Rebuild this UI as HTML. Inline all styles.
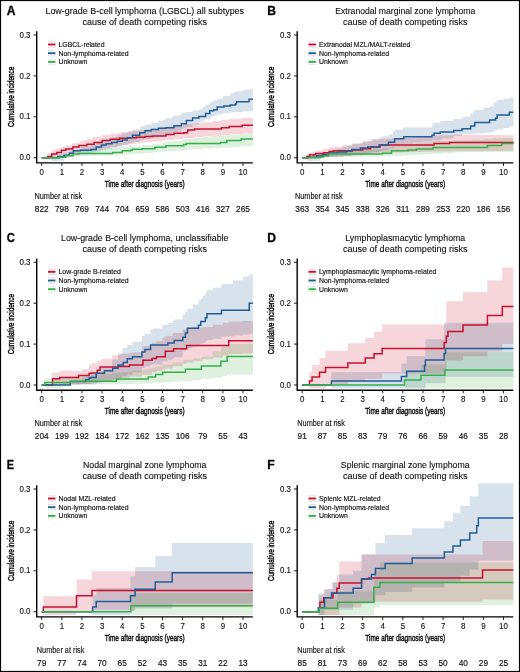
<!DOCTYPE html><html><head><meta charset="utf-8"><style>html,body{margin:0;padding:0;background:#fff;}svg{display:block;will-change:transform;}text{font-family:"Liberation Sans", sans-serif;stroke:#000;stroke-width:0.16px;paint-order:normal;}</style></head><body>
<svg width="520" height="672" viewBox="0 0 520 672">
<rect x="0" y="0" width="520" height="672" fill="#fff"/>
<g transform="translate(0.00,0.00)">
<text transform="translate(6.7,14.8) scale(1.00,1)" font-size="12.1" font-weight="bold" fill="#000" style="stroke-width:0.3px">A</text>
<text x="144.75" y="13.8" font-size="9.05" text-anchor="middle" textLength="198.67" lengthAdjust="spacingAndGlyphs" fill="#111" style="stroke-width:0.1px">Low-grade B-cell lymphoma (LGBCL) all subtypes</text>
<text x="144.75" y="25.1" font-size="9.05" text-anchor="middle" fill="#111" style="stroke-width:0.1px">cause of death competing risks</text>
<path d="M41.70 156.88 L47.74 156.88 L47.74 152.79 L51.77 152.79 L51.77 150.07 L56.80 150.07 L56.80 148.21 L61.43 148.21 L61.43 146.78 L61.83 146.78 L61.83 146.66 L65.86 146.66 L65.86 145.43 L71.90 145.43 L71.90 143.59 L72.90 143.59 L72.90 143.28 L78.94 143.28 L78.94 141.44 L81.96 141.44 L81.96 140.52 L86.99 140.52 L86.99 138.93 L92.03 138.93 L92.03 137.41 L94.04 137.41 L94.04 136.93 L102.09 136.93 L102.09 134.97 L110.14 134.97 L110.14 133.70 L112.16 133.70 L112.16 133.46 L119.60 133.46 L119.60 132.56 L122.22 132.56 L122.22 132.24 L128.26 132.24 L128.26 131.51 L132.28 131.51 L132.28 131.02 L136.31 131.02 L136.31 130.53 L142.35 130.53 L142.35 129.80 L144.97 129.80 L144.97 129.48 L152.41 129.48 L152.41 128.44 L162.48 128.44 L162.48 127.02 L165.90 127.02 L165.90 126.62 L172.55 126.62 L172.55 125.83 L173.95 125.83 L173.95 125.66 L182.61 125.66 L182.61 124.63 L184.02 124.63 L184.02 124.46 L187.64 124.46 L187.64 124.03 L192.68 124.03 L192.68 123.43 L194.69 123.43 L194.69 123.19 L202.74 123.19 L202.74 122.21 L212.81 122.21 L212.81 120.93 L221.46 120.93 L221.46 119.84 L222.87 119.84 L222.87 119.66 L229.11 119.66 L229.11 119.07 L232.94 119.07 L232.94 118.70 L242.19 118.70 L242.19 117.82 L243.00 117.82 L243.00 117.74 L252.86 117.74 L252.86 116.80 L252.86 132.87 L252.86 133.57 L243.00 133.57 L243.00 133.63 L242.19 133.63 L242.19 134.29 L232.94 134.29 L232.94 134.56 L229.11 134.56 L229.11 135.00 L222.87 135.00 L222.87 135.11 L221.46 135.11 L221.46 135.77 L212.81 135.77 L212.81 136.55 L202.74 136.55 L202.74 137.26 L194.69 137.26 L194.69 137.46 L192.68 137.46 L192.68 137.95 L187.64 137.95 L187.64 138.31 L184.02 138.31 L184.02 138.45 L182.61 138.45 L182.61 139.30 L173.95 139.30 L173.95 139.44 L172.55 139.44 L172.55 140.09 L165.90 140.09 L165.90 140.43 L162.48 140.43 L162.48 141.42 L152.41 141.42 L152.41 142.16 L144.97 142.16 L144.97 142.50 L142.35 142.50 L142.35 143.27 L136.31 143.27 L136.31 143.79 L132.28 143.79 L132.28 144.31 L128.26 144.31 L128.26 145.09 L122.22 145.09 L122.22 145.43 L119.60 145.43 L119.60 146.39 L112.16 146.39 L112.16 146.65 L110.14 146.65 L110.14 147.68 L102.09 147.68 L102.09 148.72 L94.04 148.72 L94.04 148.98 L92.03 148.98 L92.03 149.84 L86.99 149.84 L86.99 150.75 L81.96 150.75 L81.96 151.30 L78.94 151.30 L78.94 152.40 L72.90 152.40 L72.90 152.59 L71.90 152.59 L71.90 153.69 L65.86 153.69 L65.86 154.43 L61.83 154.43 L61.83 154.52 L61.43 154.52 L61.43 155.54 L56.80 155.54 L56.80 156.56 L51.77 156.56 L51.77 157.02 L47.74 157.02 L47.74 157.70 L41.70 157.70 Z" fill="#f6d5db" style="mix-blend-mode:multiply" stroke="none"/>
<path d="M41.70 157.29 L51.77 157.29 L51.77 155.45 L57.80 155.45 L57.80 154.35 L61.83 154.35 L61.83 153.61 L64.04 153.61 L64.04 152.85 L69.28 152.85 L69.28 151.04 L71.90 151.04 L71.90 150.13 L73.30 150.13 L73.30 149.65 L80.55 149.65 L80.55 147.14 L81.96 147.14 L81.96 146.66 L91.02 146.66 L91.02 145.02 L92.03 145.02 L92.03 144.64 L96.25 144.64 L96.25 143.06 L101.49 143.06 L101.49 141.10 L102.09 141.10 L102.09 140.87 L106.12 140.87 L106.12 139.36 L111.75 139.36 L111.75 137.25 L112.16 137.25 L112.16 137.10 L117.19 137.10 L117.19 135.21 L122.22 135.21 L122.22 133.33 L127.25 133.33 L127.25 131.44 L132.28 131.44 L132.28 129.55 L132.49 129.55 L132.49 129.48 L139.73 129.48 L139.73 126.87 L142.35 126.87 L142.35 125.92 L144.97 125.92 L144.97 124.98 L151.21 124.98 L151.21 123.09 L152.41 123.09 L152.41 122.73 L158.45 122.73 L158.45 120.77 L162.48 120.77 L162.48 119.43 L165.90 119.43 L165.90 118.29 L172.55 118.29 L172.55 116.07 L173.95 116.07 L173.95 115.60 L181.40 115.60 L181.40 113.11 L182.61 113.11 L182.61 112.71 L186.43 112.71 L186.43 111.88 L192.68 111.88 L192.68 110.54 L198.92 110.54 L198.92 109.19 L202.74 109.19 L202.74 106.69 L205.56 106.69 L205.56 104.84 L209.79 104.84 L209.79 102.08 L212.81 102.08 L212.81 100.71 L213.81 100.71 L213.81 100.26 L217.23 100.26 L217.23 98.71 L222.87 98.71 L222.87 96.35 L223.88 96.35 L223.88 95.94 L230.12 95.94 L230.12 93.41 L232.94 93.41 L232.94 92.26 L235.55 92.26 L235.55 91.34 L236.56 91.34 L236.56 91.16 L243.00 91.16 L243.00 90.04 L249.04 90.04 L249.04 88.99 L252.86 88.99 L252.86 88.17 L252.86 110.66 L252.86 110.99 L249.04 110.99 L249.04 111.50 L243.00 111.50 L243.00 112.04 L236.56 112.04 L236.56 112.12 L235.55 112.12 L235.55 112.34 L232.94 112.34 L232.94 112.58 L230.12 112.58 L230.12 113.10 L223.88 113.10 L223.88 113.19 L222.87 113.19 L222.87 114.22 L217.23 114.22 L217.23 115.70 L213.81 115.70 L213.81 116.13 L212.81 116.13 L212.81 117.43 L209.79 117.43 L209.79 119.25 L205.56 119.25 L205.56 120.47 L202.74 120.47 L202.74 122.12 L198.92 122.12 L198.92 124.57 L192.68 124.57 L192.68 127.02 L186.43 127.02 L186.43 128.52 L182.61 128.52 L182.61 129.00 L181.40 129.00 L181.40 131.92 L173.95 131.92 L173.95 132.48 L172.55 132.48 L172.55 135.09 L165.90 135.09 L165.90 136.43 L162.48 136.43 L162.48 137.00 L158.45 137.00 L158.45 137.84 L152.41 137.84 L152.41 138.01 L151.21 138.01 L151.21 138.89 L144.97 138.89 L144.97 139.56 L142.35 139.56 L142.35 140.24 L139.73 140.24 L139.73 142.10 L132.49 142.10 L132.49 142.15 L132.28 142.15 L132.28 143.45 L127.25 143.45 L127.25 144.75 L122.22 144.75 L122.22 146.05 L117.19 146.05 L117.19 147.34 L112.16 147.34 L112.16 147.45 L111.75 147.45 L111.75 148.90 L106.12 148.90 L106.12 149.94 L102.09 149.94 L102.09 150.09 L101.49 150.09 L101.49 151.44 L96.25 151.44 L96.25 152.53 L92.03 152.53 L92.03 152.79 L91.02 152.79 L91.02 153.61 L81.96 153.61 L81.96 153.90 L80.55 153.90 L80.55 155.37 L73.30 155.37 L73.30 155.66 L71.90 155.66 L71.90 156.19 L69.28 156.19 L69.28 157.25 L64.04 157.25 L64.04 160.97 L61.83 160.97 L61.83 160.97 L57.80 160.97 L57.80 160.97 L51.77 160.97 L51.77 157.70 L41.70 157.70 Z" fill="#d8e2ec" style="mix-blend-mode:multiply" stroke="none"/>
<path d="M41.70 157.29 L51.77 157.29 L51.77 156.27 L59.82 156.27 L59.82 155.45 L61.83 155.45 L61.83 155.25 L65.86 155.25 L65.86 154.18 L71.90 154.18 L71.90 152.59 L73.30 152.59 L73.30 152.22 L78.54 152.22 L78.54 150.83 L81.96 150.83 L81.96 149.93 L92.03 149.93 L92.03 148.84 L102.09 148.84 L102.09 147.75 L112.16 147.75 L112.16 146.66 L112.76 146.66 L112.76 146.63 L122.22 146.63 L122.22 146.16 L130.47 146.16 L130.47 145.74 L132.28 145.74 L132.28 145.65 L142.35 145.65 L142.35 145.15 L152.41 145.15 L152.41 143.80 L154.83 143.80 L154.83 143.41 L162.48 143.41 L162.48 142.16 L165.90 142.16 L165.90 141.70 L172.55 141.70 L172.55 140.80 L182.61 140.80 L182.61 139.45 L183.62 139.45 L183.62 139.31 L186.43 139.31 L186.43 138.93 L192.68 138.93 L192.68 138.09 L202.74 138.09 L202.74 136.94 L212.81 136.94 L212.81 136.12 L220.45 136.12 L220.45 135.50 L222.87 135.50 L222.87 135.31 L226.90 135.31 L226.90 134.98 L232.94 134.98 L232.94 134.49 L240.99 134.49 L240.99 133.84 L243.00 133.84 L243.00 133.67 L252.86 133.67 L252.86 132.87 L252.86 145.43 L252.86 146.21 L243.00 146.21 L243.00 146.37 L240.99 146.37 L240.99 147.00 L232.94 147.00 L232.94 147.47 L226.90 147.47 L226.90 147.66 L222.87 147.66 L222.87 147.78 L220.45 147.78 L220.45 148.13 L212.81 148.13 L212.81 148.60 L202.74 148.60 L202.74 149.25 L192.68 149.25 L192.68 149.71 L186.43 149.71 L186.43 149.92 L183.62 149.92 L183.62 150.00 L182.61 150.00 L182.61 150.74 L172.55 150.74 L172.55 151.24 L165.90 151.24 L165.90 151.49 L162.48 151.49 L162.48 152.06 L154.83 152.06 L154.83 152.24 L152.41 152.24 L152.41 152.99 L142.35 152.99 L142.35 153.74 L132.28 153.74 L132.28 153.88 L130.47 153.88 L130.47 154.49 L122.22 154.49 L122.22 155.20 L112.76 155.20 L112.76 155.25 L112.16 155.25 L112.16 155.52 L102.09 155.52 L102.09 155.79 L92.03 155.79 L92.03 156.06 L81.96 156.06 L81.96 156.20 L78.54 156.20 L78.54 156.42 L73.30 156.42 L73.30 156.47 L71.90 156.47 L71.90 156.72 L65.86 156.72 L65.86 156.88 L61.83 156.88 L61.83 156.96 L59.82 156.96 L59.82 157.29 L51.77 157.29 L51.77 157.70 L41.70 157.70 Z" fill="#def1de" style="mix-blend-mode:multiply" stroke="none"/>
<path d="M41.70 157.70 H47.74 V156.47 H51.77 V154.02 H56.80 V152.38 H61.43 V150.34 H65.86 V149.11 H72.90 V147.07 H78.94 V145.43 H86.99 V144.20 H94.04 V142.57 H102.09 V140.52 H110.14 V139.29 H119.60 V138.27 H128.26 V137.66 H136.31 V137.25 H144.97 V136.43 H152.41 V136.02 H165.90 V134.39 H173.95 V133.16 H184.02 V132.75 H187.64 V130.09 H194.69 V129.07 H221.46 V127.84 H229.11 V126.62 H242.19 V125.18 H252.86" fill="none" stroke="#c8102e" stroke-width="1.5"/>
<path d="M41.70 157.70 H57.80 V156.47 H64.04 V155.25 H69.28 V153.20 H73.30 V150.75 H80.55 V150.34 H91.02 V149.52 H96.25 V147.07 H101.49 V145.02 H106.12 V143.79 H111.75 V142.57 H117.19 V141.34 H122.22 V139.91 H127.25 V137.66 H132.49 V135.20 H139.73 V132.75 H144.97 V130.71 H151.21 V129.60 H158.45 V128.25 H165.90 V127.84 H173.95 V125.80 H181.40 V123.75 H186.43 V120.48 H192.68 V118.03 H198.92 V116.39 H205.56 V113.53 H209.79 V110.79 H213.81 V109.85 H217.23 V107.11 H223.88 V106.00 H230.12 V104.94 H235.55 V103.71 H236.56 V101.67 H249.04 V99.21 H252.86" fill="none" stroke="#235d94" stroke-width="1.5"/>
<path d="M41.70 157.70 H59.82 V157.29 H65.86 V155.66 H73.30 V154.02 H78.54 V153.61 H112.76 V152.38 H122.22 V150.75 H130.47 V150.34 H132.28 V149.32 H142.35 V148.70 H154.83 V147.19 H165.90 V145.72 H183.62 V144.61 H186.43 V143.38 H220.45 V142.57 H226.90 V140.52 H240.99 V138.89 H252.86" fill="none" stroke="#36ae4c" stroke-width="1.5"/>
<path d="M36.70 31.20 V162.90 H252.80" fill="none" stroke="#000" stroke-width="1.4"/>
<line x1="33.6" y1="157.70" x2="36.70" y2="157.70" stroke="#111" stroke-width="1"/>
<text transform="translate(30.5,160.30) scale(0.920,1)" font-size="8.60" text-anchor="end" fill="#111" style="stroke-width:0.12px">0.0</text>
<line x1="33.6" y1="116.80" x2="36.70" y2="116.80" stroke="#111" stroke-width="1"/>
<text transform="translate(30.5,119.40) scale(0.920,1)" font-size="8.60" text-anchor="end" fill="#111" style="stroke-width:0.12px">0.1</text>
<line x1="33.6" y1="75.90" x2="36.70" y2="75.90" stroke="#111" stroke-width="1"/>
<text transform="translate(30.5,78.50) scale(0.920,1)" font-size="8.60" text-anchor="end" fill="#111" style="stroke-width:0.12px">0.2</text>
<line x1="33.6" y1="35.00" x2="36.70" y2="35.00" stroke="#111" stroke-width="1"/>
<text transform="translate(30.5,37.60) scale(0.920,1)" font-size="8.60" text-anchor="end" fill="#111" style="stroke-width:0.12px">0.3</text>
<line x1="41.70" y1="162.90" x2="41.70" y2="166" stroke="#111" stroke-width="0.9"/>
<text transform="translate(41.70,174.5) scale(0.920,1)" font-size="8.60" text-anchor="middle" fill="#111" style="stroke-width:0.12px">0</text>
<text transform="translate(41.70,211.7) scale(0.900,1)" font-size="9.20" text-anchor="middle" fill="#111" style="stroke-width:0.16px">822</text>
<line x1="61.83" y1="162.90" x2="61.83" y2="166" stroke="#111" stroke-width="0.9"/>
<text transform="translate(61.83,174.5) scale(0.920,1)" font-size="8.60" text-anchor="middle" fill="#111" style="stroke-width:0.12px">1</text>
<text transform="translate(61.83,211.7) scale(0.900,1)" font-size="9.20" text-anchor="middle" fill="#111" style="stroke-width:0.16px">798</text>
<line x1="81.96" y1="162.90" x2="81.96" y2="166" stroke="#111" stroke-width="0.9"/>
<text transform="translate(81.96,174.5) scale(0.920,1)" font-size="8.60" text-anchor="middle" fill="#111" style="stroke-width:0.12px">2</text>
<text transform="translate(81.96,211.7) scale(0.900,1)" font-size="9.20" text-anchor="middle" fill="#111" style="stroke-width:0.16px">769</text>
<line x1="102.09" y1="162.90" x2="102.09" y2="166" stroke="#111" stroke-width="0.9"/>
<text transform="translate(102.09,174.5) scale(0.920,1)" font-size="8.60" text-anchor="middle" fill="#111" style="stroke-width:0.12px">3</text>
<text transform="translate(102.09,211.7) scale(0.900,1)" font-size="9.20" text-anchor="middle" fill="#111" style="stroke-width:0.16px">744</text>
<line x1="122.22" y1="162.90" x2="122.22" y2="166" stroke="#111" stroke-width="0.9"/>
<text transform="translate(122.22,174.5) scale(0.920,1)" font-size="8.60" text-anchor="middle" fill="#111" style="stroke-width:0.12px">4</text>
<text transform="translate(122.22,211.7) scale(0.900,1)" font-size="9.20" text-anchor="middle" fill="#111" style="stroke-width:0.16px">704</text>
<line x1="142.35" y1="162.90" x2="142.35" y2="166" stroke="#111" stroke-width="0.9"/>
<text transform="translate(142.35,174.5) scale(0.920,1)" font-size="8.60" text-anchor="middle" fill="#111" style="stroke-width:0.12px">5</text>
<text transform="translate(142.35,211.7) scale(0.900,1)" font-size="9.20" text-anchor="middle" fill="#111" style="stroke-width:0.16px">659</text>
<line x1="162.48" y1="162.90" x2="162.48" y2="166" stroke="#111" stroke-width="0.9"/>
<text transform="translate(162.48,174.5) scale(0.920,1)" font-size="8.60" text-anchor="middle" fill="#111" style="stroke-width:0.12px">6</text>
<text transform="translate(162.48,211.7) scale(0.900,1)" font-size="9.20" text-anchor="middle" fill="#111" style="stroke-width:0.16px">586</text>
<line x1="182.61" y1="162.90" x2="182.61" y2="166" stroke="#111" stroke-width="0.9"/>
<text transform="translate(182.61,174.5) scale(0.920,1)" font-size="8.60" text-anchor="middle" fill="#111" style="stroke-width:0.12px">7</text>
<text transform="translate(182.61,211.7) scale(0.900,1)" font-size="9.20" text-anchor="middle" fill="#111" style="stroke-width:0.16px">503</text>
<line x1="202.74" y1="162.90" x2="202.74" y2="166" stroke="#111" stroke-width="0.9"/>
<text transform="translate(202.74,174.5) scale(0.920,1)" font-size="8.60" text-anchor="middle" fill="#111" style="stroke-width:0.12px">8</text>
<text transform="translate(202.74,211.7) scale(0.900,1)" font-size="9.20" text-anchor="middle" fill="#111" style="stroke-width:0.16px">416</text>
<line x1="222.87" y1="162.90" x2="222.87" y2="166" stroke="#111" stroke-width="0.9"/>
<text transform="translate(222.87,174.5) scale(0.920,1)" font-size="8.60" text-anchor="middle" fill="#111" style="stroke-width:0.12px">9</text>
<text transform="translate(222.87,211.7) scale(0.900,1)" font-size="9.20" text-anchor="middle" fill="#111" style="stroke-width:0.16px">327</text>
<line x1="243.00" y1="162.90" x2="243.00" y2="166" stroke="#111" stroke-width="0.9"/>
<text transform="translate(243.00,174.5) scale(0.920,1)" font-size="8.60" text-anchor="middle" fill="#111" style="stroke-width:0.12px">10</text>
<text transform="translate(243.00,211.7) scale(0.900,1)" font-size="9.20" text-anchor="middle" fill="#111" style="stroke-width:0.16px">265</text>
<text x="144.75" y="187.1" font-size="9.9" text-anchor="middle" textLength="79.8" lengthAdjust="spacingAndGlyphs" fill="#111" style="stroke-width:0.42px">Time after diagnosis (years)</text>
<text transform="translate(13.8,96.9) rotate(-90)" x="0" y="0" font-size="9.9" text-anchor="middle" textLength="60.3" lengthAdjust="spacingAndGlyphs" fill="#111" style="stroke-width:0.42px">Cumulative incidence</text>
<text x="34.49" y="199.1" font-size="8.4" textLength="47.6" lengthAdjust="spacingAndGlyphs" fill="#111" style="stroke-width:0.12px">Number at risk</text>
<rect x="48" y="41.30" width="7.4" height="6.4" fill="#f6d5db"/><rect x="48" y="42.30" width="7.4" height="4.4" fill="#fff"/>
<line x1="48" y1="44.50" x2="55.4" y2="44.50" stroke="#c8102e" stroke-width="1.9"/>
<text x="58.5" y="47.00" font-size="6.9" fill="#111" style="stroke-width:0.14px">LGBCL-related</text>
<rect x="48" y="50.00" width="7.4" height="6.4" fill="#d8e2ec"/><rect x="48" y="51.00" width="7.4" height="4.4" fill="#fff"/>
<line x1="48" y1="53.20" x2="55.4" y2="53.20" stroke="#235d94" stroke-width="1.9"/>
<text x="58.5" y="55.70" font-size="6.9" fill="#111" style="stroke-width:0.14px">Non-lymphoma-related</text>
<rect x="48" y="58.70" width="7.4" height="6.4" fill="#def1de"/><rect x="48" y="59.70" width="7.4" height="4.4" fill="#fff"/>
<line x1="48" y1="61.90" x2="55.4" y2="61.90" stroke="#36ae4c" stroke-width="1.9"/>
<text x="58.5" y="64.40" font-size="6.9" fill="#111" style="stroke-width:0.14px">Unknown</text>
</g>
<g transform="translate(260.50,0.00)">
<text transform="translate(6.7,14.8) scale(1.00,1)" font-size="12.1" font-weight="bold" fill="#000" style="stroke-width:0.3px">B</text>
<text x="144.75" y="13.8" font-size="9.05" text-anchor="middle" textLength="139.97" lengthAdjust="spacingAndGlyphs" fill="#111" style="stroke-width:0.1px">Extranodal marginal zone lymphoma</text>
<text x="144.75" y="25.1" font-size="9.05" text-anchor="middle" fill="#111" style="stroke-width:0.1px">cause of death competing risks</text>
<path d="M41.70 156.88 L46.33 156.88 L46.33 154.44 L48.95 154.44 L48.95 153.05 L51.77 153.05 L51.77 151.56 L55.19 151.56 L55.19 150.74 L61.83 150.74 L61.83 149.13 L63.44 149.13 L63.44 148.74 L68.67 148.74 L68.67 147.47 L71.90 147.47 L71.90 146.90 L72.90 146.90 L72.90 146.71 L81.96 146.71 L81.96 145.09 L92.03 145.09 L92.03 143.23 L102.09 143.23 L102.09 140.64 L110.14 140.64 L110.14 139.20 L112.16 139.20 L112.16 139.13 L119.60 139.13 L119.60 138.88 L122.22 138.88 L122.22 138.79 L132.28 138.79 L132.28 138.45 L142.35 138.45 L142.35 138.10 L152.41 138.10 L152.41 137.31 L162.48 137.31 L162.48 136.46 L172.55 136.46 L172.55 135.61 L173.55 135.61 L173.55 135.57 L182.61 135.57 L182.61 135.20 L189.05 135.20 L189.05 134.94 L192.68 134.94 L192.68 134.80 L202.74 134.80 L202.74 134.86 L212.81 134.86 L212.81 134.93 L222.87 134.93 L222.87 135.00 L232.94 135.00 L232.94 135.07 L243.00 135.07 L243.00 135.14 L252.86 135.14 L252.86 135.20 L252.86 150.75 L252.86 150.85 L243.00 150.85 L243.00 150.95 L232.94 150.95 L232.94 151.05 L222.87 151.05 L222.87 151.15 L212.81 151.15 L212.81 151.26 L202.74 151.26 L202.74 151.36 L192.68 151.36 L192.68 151.40 L189.05 151.40 L189.05 151.46 L182.61 151.46 L182.61 151.55 L173.55 151.55 L173.55 151.56 L172.55 151.56 L172.55 151.80 L162.48 151.80 L162.48 152.03 L152.41 152.03 L152.41 152.26 L142.35 152.26 L142.35 152.50 L132.28 152.50 L132.28 152.73 L122.22 152.73 L122.22 152.79 L119.60 152.79 L119.60 153.43 L112.16 153.43 L112.16 153.60 L110.14 153.60 L110.14 154.29 L102.09 154.29 L102.09 155.16 L92.03 155.16 L92.03 156.02 L81.96 156.02 L81.96 156.80 L72.90 156.80 L72.90 156.88 L71.90 156.88 L71.90 156.97 L68.67 156.97 L68.67 157.11 L63.44 157.11 L63.44 157.15 L61.83 157.15 L61.83 157.33 L55.19 157.33 L55.19 157.43 L51.77 157.43 L51.77 160.97 L48.95 160.97 L48.95 160.97 L46.33 160.97 L46.33 157.70 L41.70 157.70 Z" fill="#f6d5db" style="mix-blend-mode:multiply" stroke="none"/>
<path d="M41.70 157.29 L47.74 157.29 L47.74 155.94 L51.77 155.94 L51.77 155.04 L56.19 155.04 L56.19 154.05 L61.83 154.05 L61.83 152.79 L62.43 152.79 L62.43 152.62 L68.67 152.62 L68.67 150.81 L71.90 150.81 L71.90 149.87 L76.93 149.87 L76.93 148.41 L81.96 148.41 L81.96 146.95 L86.39 146.95 L86.39 145.66 L91.42 145.66 L91.42 144.20 L92.03 144.20 L92.03 144.09 L99.88 144.09 L99.88 142.68 L102.09 142.68 L102.09 142.28 L107.32 142.28 L107.32 141.34 L112.16 141.34 L112.16 139.59 L118.60 139.59 L118.60 137.25 L122.22 137.25 L122.22 136.13 L127.86 136.13 L127.86 134.39 L132.28 134.39 L132.28 131.17 L134.10 131.17 L134.10 129.86 L142.35 129.86 L142.35 127.55 L143.36 127.55 L143.36 127.43 L152.41 127.43 L152.41 127.43 L162.48 127.43 L162.48 127.43 L171.54 127.43 L171.54 125.39 L172.55 125.39 L172.55 123.34 L173.55 123.34 L173.55 123.06 L179.79 123.06 L179.79 121.32 L182.61 121.32 L182.61 120.75 L192.68 120.75 L192.68 119.01 L193.28 119.01 L193.28 118.97 L201.53 118.97 L201.53 117.64 L202.74 117.64 L202.74 117.07 L210.19 117.07 L210.19 113.53 L212.81 113.53 L212.81 111.31 L214.21 111.31 L214.21 110.11 L222.87 110.11 L222.87 107.90 L229.11 107.90 L229.11 106.57 L232.94 106.57 L232.94 103.21 L234.95 103.21 L234.95 101.45 L236.56 101.45 L236.56 100.03 L243.00 100.03 L243.00 98.74 L248.84 98.74 L248.84 97.58 L252.86 97.58 L252.86 97.58 L252.86 126.62 L252.86 126.62 L248.84 126.62 L248.84 127.90 L243.00 127.90 L243.00 129.48 L236.56 129.48 L236.56 130.10 L234.95 130.10 L234.95 130.87 L232.94 130.87 L232.94 132.34 L229.11 132.34 L229.11 132.81 L222.87 132.81 L222.87 133.45 L214.21 133.45 L214.21 133.56 L212.81 133.56 L212.81 133.75 L210.19 133.75 L210.19 134.31 L202.74 134.31 L202.74 134.40 L201.53 134.40 L201.53 135.99 L193.28 135.99 L193.28 136.12 L192.68 136.12 L192.68 138.44 L182.61 138.44 L182.61 139.09 L179.79 139.09 L179.79 140.52 L173.55 140.52 L173.55 140.61 L172.55 140.61 L172.55 140.70 L171.54 140.70 L171.54 141.49 L162.48 141.49 L162.48 142.38 L152.41 142.38 L152.41 143.67 L143.36 143.67 L143.36 143.99 L142.35 143.99 L142.35 146.59 L134.10 146.59 L134.10 147.16 L132.28 147.16 L132.28 148.56 L127.86 148.56 L127.86 150.34 L122.22 150.34 L122.22 150.93 L118.60 150.93 L118.60 151.97 L112.16 151.97 L112.16 152.76 L107.32 152.76 L107.32 153.61 L102.09 153.61 L102.09 153.88 L99.88 153.88 L99.88 154.84 L92.03 154.84 L92.03 154.91 L91.42 154.91 L91.42 155.52 L86.39 155.52 L86.39 156.06 L81.96 156.06 L81.96 156.27 L76.93 156.27 L76.93 156.47 L71.90 156.47 L71.90 156.60 L68.67 156.60 L68.67 156.86 L62.43 156.86 L62.43 156.88 L61.83 156.88 L61.83 157.11 L56.19 157.11 L56.19 157.29 L51.77 157.29 L51.77 157.45 L47.74 157.45 L47.74 157.70 L41.70 157.70 Z" fill="#d8e2ec" style="mix-blend-mode:multiply" stroke="none"/>
<path d="M41.70 157.29 L51.77 157.29 L51.77 155.15 L59.62 155.15 L59.62 153.49 L61.83 153.49 L61.83 153.02 L62.43 153.02 L62.43 152.89 L67.87 152.89 L67.87 151.74 L68.67 151.74 L68.67 151.56 L71.90 151.56 L71.90 151.39 L81.96 151.39 L81.96 150.85 L92.03 150.85 L92.03 150.32 L102.09 150.32 L102.09 149.78 L112.16 149.78 L112.16 149.24 L122.02 149.24 L122.02 148.71 L122.22 148.71 L122.22 148.70 L131.08 148.70 L131.08 147.00 L132.28 147.00 L132.28 146.76 L142.35 146.76 L142.35 144.82 L147.58 144.82 L147.58 143.99 L152.41 143.99 L152.41 143.48 L155.84 143.48 L155.84 143.11 L162.48 143.11 L162.48 142.41 L172.55 142.41 L172.55 141.34 L182.61 141.34 L182.61 140.93 L192.68 140.93 L192.68 140.52 L202.74 140.52 L202.74 140.11 L212.81 140.11 L212.81 139.70 L222.87 139.70 L222.87 139.29 L226.90 139.29 L226.90 139.02 L232.94 139.02 L232.94 138.61 L241.19 138.61 L241.19 138.05 L243.00 138.05 L243.00 137.92 L252.86 137.92 L252.86 137.25 L252.86 151.97 L252.86 151.97 L243.00 151.97 L243.00 151.97 L241.19 151.97 L241.19 151.97 L232.94 151.97 L232.94 151.97 L226.90 151.97 L226.90 151.97 L222.87 151.97 L222.87 151.97 L212.81 151.97 L212.81 151.97 L202.74 151.97 L202.74 152.59 L192.68 152.59 L192.68 153.20 L182.61 153.20 L182.61 153.81 L172.55 153.81 L172.55 154.36 L162.48 154.36 L162.48 154.72 L155.84 154.72 L155.84 154.91 L152.41 154.91 L152.41 155.17 L147.58 155.17 L147.58 155.45 L142.35 155.45 L142.35 156.00 L132.28 156.00 L132.28 156.06 L131.08 156.06 L131.08 156.23 L122.22 156.23 L122.22 156.23 L122.02 156.23 L122.02 156.41 L112.16 156.41 L112.16 156.59 L102.09 156.59 L102.09 156.78 L92.03 156.78 L92.03 156.96 L81.96 156.96 L81.96 157.15 L71.90 157.15 L71.90 157.21 L68.67 157.21 L68.67 157.22 L67.87 157.22 L67.87 157.32 L62.43 157.32 L62.43 157.33 L61.83 157.33 L61.83 157.37 L59.62 157.37 L59.62 160.97 L51.77 160.97 L51.77 157.70 L41.70 157.70 Z" fill="#def1de" style="mix-blend-mode:multiply" stroke="none"/>
<path d="M41.70 157.70 H46.33 V156.47 H48.95 V154.84 H55.19 V153.61 H63.44 V152.79 H68.67 V151.40 H72.90 V150.75 H92.03 V149.93 H102.09 V148.70 H110.14 V147.07 H119.60 V145.02 H173.55 V143.59 H189.05 V142.57 H252.86 V142.40" fill="none" stroke="#c8102e" stroke-width="1.5"/>
<path d="M41.70 157.70 H47.74 V157.29 H56.19 V155.66 H62.43 V154.63 H68.67 V153.00 H76.93 V151.97 H86.39 V150.91 H91.42 V149.40 H99.88 V148.01 H107.32 V147.07 H118.60 V145.02 H127.86 V142.28 H134.10 V138.68 H143.36 V136.72 H171.54 V135.20 H173.55 V133.16 H179.79 V131.93 H193.28 V130.42 H201.53 V128.66 H210.19 V126.00 H214.21 V122.53 H229.11 V120.07 H234.95 V118.23 H236.56 V114.88 H248.84 V112.30 H252.86" fill="none" stroke="#235d94" stroke-width="1.5"/>
<path d="M41.70 157.70 H59.62 V157.29 H62.43 V156.06 H67.87 V155.12 H68.67 V154.02 H122.02 V153.20 H131.08 V150.75 H147.58 V149.93 H155.84 V149.11 H172.55 V147.60 H226.90 V145.51 H241.19 V143.59 H252.86" fill="none" stroke="#36ae4c" stroke-width="1.5"/>
<path d="M36.70 31.20 V162.90 H252.80" fill="none" stroke="#000" stroke-width="1.4"/>
<line x1="33.6" y1="157.70" x2="36.70" y2="157.70" stroke="#111" stroke-width="1"/>
<text transform="translate(30.5,160.30) scale(0.920,1)" font-size="8.60" text-anchor="end" fill="#111" style="stroke-width:0.12px">0.0</text>
<line x1="33.6" y1="116.80" x2="36.70" y2="116.80" stroke="#111" stroke-width="1"/>
<text transform="translate(30.5,119.40) scale(0.920,1)" font-size="8.60" text-anchor="end" fill="#111" style="stroke-width:0.12px">0.1</text>
<line x1="33.6" y1="75.90" x2="36.70" y2="75.90" stroke="#111" stroke-width="1"/>
<text transform="translate(30.5,78.50) scale(0.920,1)" font-size="8.60" text-anchor="end" fill="#111" style="stroke-width:0.12px">0.2</text>
<line x1="33.6" y1="35.00" x2="36.70" y2="35.00" stroke="#111" stroke-width="1"/>
<text transform="translate(30.5,37.60) scale(0.920,1)" font-size="8.60" text-anchor="end" fill="#111" style="stroke-width:0.12px">0.3</text>
<line x1="41.70" y1="162.90" x2="41.70" y2="166" stroke="#111" stroke-width="0.9"/>
<text transform="translate(41.70,174.5) scale(0.920,1)" font-size="8.60" text-anchor="middle" fill="#111" style="stroke-width:0.12px">0</text>
<text transform="translate(41.70,211.7) scale(0.900,1)" font-size="9.20" text-anchor="middle" fill="#111" style="stroke-width:0.16px">363</text>
<line x1="61.83" y1="162.90" x2="61.83" y2="166" stroke="#111" stroke-width="0.9"/>
<text transform="translate(61.83,174.5) scale(0.920,1)" font-size="8.60" text-anchor="middle" fill="#111" style="stroke-width:0.12px">1</text>
<text transform="translate(61.83,211.7) scale(0.900,1)" font-size="9.20" text-anchor="middle" fill="#111" style="stroke-width:0.16px">354</text>
<line x1="81.96" y1="162.90" x2="81.96" y2="166" stroke="#111" stroke-width="0.9"/>
<text transform="translate(81.96,174.5) scale(0.920,1)" font-size="8.60" text-anchor="middle" fill="#111" style="stroke-width:0.12px">2</text>
<text transform="translate(81.96,211.7) scale(0.900,1)" font-size="9.20" text-anchor="middle" fill="#111" style="stroke-width:0.16px">345</text>
<line x1="102.09" y1="162.90" x2="102.09" y2="166" stroke="#111" stroke-width="0.9"/>
<text transform="translate(102.09,174.5) scale(0.920,1)" font-size="8.60" text-anchor="middle" fill="#111" style="stroke-width:0.12px">3</text>
<text transform="translate(102.09,211.7) scale(0.900,1)" font-size="9.20" text-anchor="middle" fill="#111" style="stroke-width:0.16px">338</text>
<line x1="122.22" y1="162.90" x2="122.22" y2="166" stroke="#111" stroke-width="0.9"/>
<text transform="translate(122.22,174.5) scale(0.920,1)" font-size="8.60" text-anchor="middle" fill="#111" style="stroke-width:0.12px">4</text>
<text transform="translate(122.22,211.7) scale(0.900,1)" font-size="9.20" text-anchor="middle" fill="#111" style="stroke-width:0.16px">326</text>
<line x1="142.35" y1="162.90" x2="142.35" y2="166" stroke="#111" stroke-width="0.9"/>
<text transform="translate(142.35,174.5) scale(0.920,1)" font-size="8.60" text-anchor="middle" fill="#111" style="stroke-width:0.12px">5</text>
<text transform="translate(142.35,211.7) scale(0.900,1)" font-size="9.20" text-anchor="middle" fill="#111" style="stroke-width:0.16px">311</text>
<line x1="162.48" y1="162.90" x2="162.48" y2="166" stroke="#111" stroke-width="0.9"/>
<text transform="translate(162.48,174.5) scale(0.920,1)" font-size="8.60" text-anchor="middle" fill="#111" style="stroke-width:0.12px">6</text>
<text transform="translate(162.48,211.7) scale(0.900,1)" font-size="9.20" text-anchor="middle" fill="#111" style="stroke-width:0.16px">289</text>
<line x1="182.61" y1="162.90" x2="182.61" y2="166" stroke="#111" stroke-width="0.9"/>
<text transform="translate(182.61,174.5) scale(0.920,1)" font-size="8.60" text-anchor="middle" fill="#111" style="stroke-width:0.12px">7</text>
<text transform="translate(182.61,211.7) scale(0.900,1)" font-size="9.20" text-anchor="middle" fill="#111" style="stroke-width:0.16px">253</text>
<line x1="202.74" y1="162.90" x2="202.74" y2="166" stroke="#111" stroke-width="0.9"/>
<text transform="translate(202.74,174.5) scale(0.920,1)" font-size="8.60" text-anchor="middle" fill="#111" style="stroke-width:0.12px">8</text>
<text transform="translate(202.74,211.7) scale(0.900,1)" font-size="9.20" text-anchor="middle" fill="#111" style="stroke-width:0.16px">220</text>
<line x1="222.87" y1="162.90" x2="222.87" y2="166" stroke="#111" stroke-width="0.9"/>
<text transform="translate(222.87,174.5) scale(0.920,1)" font-size="8.60" text-anchor="middle" fill="#111" style="stroke-width:0.12px">9</text>
<text transform="translate(222.87,211.7) scale(0.900,1)" font-size="9.20" text-anchor="middle" fill="#111" style="stroke-width:0.16px">186</text>
<line x1="243.00" y1="162.90" x2="243.00" y2="166" stroke="#111" stroke-width="0.9"/>
<text transform="translate(243.00,174.5) scale(0.920,1)" font-size="8.60" text-anchor="middle" fill="#111" style="stroke-width:0.12px">10</text>
<text transform="translate(243.00,211.7) scale(0.900,1)" font-size="9.20" text-anchor="middle" fill="#111" style="stroke-width:0.16px">156</text>
<text x="144.75" y="187.1" font-size="9.9" text-anchor="middle" textLength="79.8" lengthAdjust="spacingAndGlyphs" fill="#111" style="stroke-width:0.42px">Time after diagnosis (years)</text>
<text transform="translate(13.8,96.9) rotate(-90)" x="0" y="0" font-size="9.9" text-anchor="middle" textLength="60.3" lengthAdjust="spacingAndGlyphs" fill="#111" style="stroke-width:0.42px">Cumulative incidence</text>
<text x="34.49" y="199.1" font-size="8.4" textLength="47.6" lengthAdjust="spacingAndGlyphs" fill="#111" style="stroke-width:0.12px">Number at risk</text>
<rect x="48" y="41.30" width="7.4" height="6.4" fill="#f6d5db"/><rect x="48" y="42.30" width="7.4" height="4.4" fill="#fff"/>
<line x1="48" y1="44.50" x2="55.4" y2="44.50" stroke="#c8102e" stroke-width="1.9"/>
<text x="58.5" y="47.00" font-size="6.9" fill="#111" style="stroke-width:0.14px">Extranodal MZL/MALT-related</text>
<rect x="48" y="50.00" width="7.4" height="6.4" fill="#d8e2ec"/><rect x="48" y="51.00" width="7.4" height="4.4" fill="#fff"/>
<line x1="48" y1="53.20" x2="55.4" y2="53.20" stroke="#235d94" stroke-width="1.9"/>
<text x="58.5" y="55.70" font-size="6.9" fill="#111" style="stroke-width:0.14px">Non-lymphoma-related</text>
<rect x="48" y="58.70" width="7.4" height="6.4" fill="#def1de"/><rect x="48" y="59.70" width="7.4" height="4.4" fill="#fff"/>
<line x1="48" y1="61.90" x2="55.4" y2="61.90" stroke="#36ae4c" stroke-width="1.9"/>
<text x="58.5" y="64.40" font-size="6.9" fill="#111" style="stroke-width:0.14px">Unknown</text>
</g>
<g transform="translate(0.00,227.30)">
<text transform="translate(6.7,14.8) scale(0.93,1)" font-size="12.1" font-weight="bold" fill="#000" style="stroke-width:0.3px">C</text>
<text x="144.75" y="13.8" font-size="9.05" text-anchor="middle" textLength="167.40" lengthAdjust="spacingAndGlyphs" fill="#111" style="stroke-width:0.1px">Low-grade B-cell lymphoma, unclassifiable</text>
<text x="144.75" y="25.1" font-size="9.05" text-anchor="middle" fill="#111" style="stroke-width:0.1px">cause of death competing risks</text>
<path d="M41.70 156.88 L51.77 156.88 L51.77 146.09 L52.57 146.09 L52.57 145.23 L59.82 145.23 L59.82 142.98 L61.83 142.98 L61.83 143.11 L71.90 143.11 L71.90 143.77 L78.54 143.77 L78.54 144.20 L81.96 144.20 L81.96 141.93 L89.01 141.93 L89.01 137.25 L91.02 137.25 L91.02 136.36 L92.03 136.36 L92.03 135.91 L97.26 135.91 L97.26 133.59 L100.08 133.59 L100.08 132.34 L102.09 132.34 L102.09 131.52 L112.16 131.52 L112.16 127.95 L117.99 127.95 L117.99 127.09 L122.22 127.09 L122.22 126.47 L129.47 126.47 L129.47 125.40 L132.28 125.40 L132.28 124.98 L142.35 124.98 L142.35 118.84 L142.95 118.84 L142.95 118.63 L152.01 118.63 L152.01 115.48 L152.41 115.48 L152.41 115.34 L156.44 115.34 L156.44 113.94 L162.48 113.94 L162.48 110.31 L165.30 110.31 L165.30 108.62 L172.55 108.62 L172.55 106.11 L173.55 106.11 L173.55 105.76 L182.61 105.76 L182.61 102.08 L186.64 102.08 L186.64 100.44 L192.68 100.44 L192.68 100.13 L202.74 100.13 L202.74 99.62 L212.81 99.62 L212.81 97.56 L222.87 97.56 L222.87 95.50 L228.71 95.50 L228.71 94.30 L232.94 94.30 L232.94 94.09 L243.00 94.09 L243.00 93.58 L252.86 93.58 L252.86 93.08 L252.86 125.80 L252.86 126.30 L243.00 126.30 L243.00 126.81 L232.94 126.81 L232.94 127.02 L228.71 127.02 L228.71 128.16 L222.87 128.16 L222.87 130.12 L212.81 130.12 L212.81 132.07 L202.74 132.07 L202.74 134.03 L192.68 134.03 L192.68 135.20 L186.64 135.20 L186.64 136.36 L182.61 136.36 L182.61 138.97 L173.55 138.97 L173.55 139.26 L172.55 139.26 L172.55 141.34 L165.30 141.34 L165.30 142.11 L162.48 142.11 L162.48 143.77 L156.44 143.77 L156.44 144.88 L152.41 144.88 L152.41 144.99 L152.01 144.99 L152.01 147.47 L142.95 147.47 L142.95 147.57 L142.35 147.57 L142.35 149.09 L132.28 149.09 L132.28 149.52 L129.47 149.52 L129.47 150.60 L122.22 150.60 L122.22 151.23 L117.99 151.23 L117.99 152.11 L112.16 152.11 L112.16 153.61 L102.09 153.61 L102.09 154.05 L100.08 154.05 L100.08 154.67 L97.26 154.67 L97.26 155.81 L92.03 155.81 L92.03 156.03 L91.02 156.03 L91.02 156.47 L89.01 156.47 L89.01 156.66 L81.96 156.66 L81.96 156.74 L78.54 156.74 L78.54 156.92 L71.90 156.92 L71.90 157.18 L61.83 157.18 L61.83 157.23 L59.82 157.23 L59.82 157.42 L52.57 157.42 L52.57 157.44 L51.77 157.44 L51.77 157.70 L41.70 157.70 Z" fill="#f6d5db" style="mix-blend-mode:multiply" stroke="none"/>
<path d="M41.70 157.29 L51.77 157.29 L51.77 156.68 L61.83 156.68 L61.83 156.06 L70.28 156.06 L70.28 153.75 L71.90 153.75 L71.90 153.31 L81.96 153.31 L81.96 150.56 L85.78 150.56 L85.78 149.52 L89.01 149.52 L89.01 147.63 L91.02 147.63 L91.02 146.45 L92.03 146.45 L92.03 145.86 L96.25 145.86 L96.25 143.38 L102.09 143.38 L102.09 140.37 L104.51 140.37 L104.51 139.12 L112.16 139.12 L112.16 132.76 L112.76 132.76 L112.76 132.09 L117.99 132.09 L117.99 126.25 L122.22 126.25 L122.22 121.79 L123.23 121.79 L123.23 120.73 L127.25 120.73 L127.25 117.64 L132.28 117.64 L132.28 114.52 L132.49 114.52 L132.49 114.40 L141.95 114.40 L141.95 108.80 L142.35 108.80 L142.35 108.57 L144.97 108.57 L144.97 106.70 L150.60 106.70 L150.60 102.47 L152.41 102.47 L152.41 101.19 L162.48 101.19 L162.48 97.58 L167.92 97.58 L167.92 95.63 L172.55 95.63 L172.55 93.20 L174.16 93.20 L174.16 92.24 L182.61 92.24 L182.61 87.20 L182.81 87.20 L182.81 87.08 L185.43 87.08 L185.43 84.66 L187.44 84.66 L187.44 81.74 L192.68 81.74 L192.68 77.13 L198.51 77.13 L198.51 72.98 L200.73 72.98 L200.73 71.40 L202.74 71.40 L202.74 68.65 L205.36 68.65 L205.36 65.08 L206.97 65.08 L206.97 62.88 L212.81 62.88 L212.81 60.45 L221.46 60.45 L221.46 57.14 L222.87 57.14 L222.87 56.64 L232.94 56.64 L232.94 53.06 L243.00 53.06 L243.00 49.49 L249.24 49.49 L249.24 47.27 L252.86 47.27 L252.86 46.45 L252.86 106.57 L252.86 106.57 L249.24 106.57 L249.24 107.22 L243.00 107.22 L243.00 108.26 L232.94 108.26 L232.94 109.29 L222.87 109.29 L222.87 109.44 L221.46 109.44 L221.46 111.39 L212.81 111.39 L212.81 112.71 L206.97 112.71 L206.97 113.77 L205.36 113.77 L205.36 115.48 L202.74 115.48 L202.74 116.80 L200.73 116.80 L200.73 117.48 L198.51 117.48 L198.51 119.28 L192.68 119.28 L192.68 120.89 L187.44 120.89 L187.44 122.27 L185.43 122.27 L185.43 124.07 L182.81 124.07 L182.81 124.21 L182.61 124.21 L182.61 130.01 L174.16 130.01 L174.16 131.11 L172.55 131.11 L172.55 132.49 L167.92 132.49 L167.92 134.10 L162.48 134.10 L162.48 137.09 L152.41 137.09 L152.41 137.62 L150.60 137.62 L150.60 139.29 L144.97 139.29 L144.97 140.50 L142.35 140.50 L142.35 140.69 L141.95 140.69 L141.95 145.06 L132.49 145.06 L132.49 145.15 L132.28 145.15 L132.28 147.47 L127.25 147.47 L127.25 148.89 L123.23 148.89 L123.23 149.25 L122.22 149.25 L122.22 150.74 L117.99 150.74 L117.99 152.58 L112.76 152.58 L112.76 152.79 L112.16 152.79 L112.16 154.35 L104.51 154.35 L104.51 154.84 L102.09 154.84 L102.09 156.02 L96.25 156.02 L96.25 156.88 L92.03 156.88 L92.03 156.90 L91.02 156.90 L91.02 156.93 L89.01 156.93 L89.01 156.98 L85.78 156.98 L85.78 157.05 L81.96 157.05 L81.96 157.21 L71.90 157.21 L71.90 157.24 L70.28 157.24 L70.28 157.37 L61.83 157.37 L61.83 157.54 L51.77 157.54 L51.77 157.70 L41.70 157.70 Z" fill="#d8e2ec" style="mix-blend-mode:multiply" stroke="none"/>
<path d="M41.70 157.29 L44.72 157.29 L44.72 151.56 L51.77 151.56 L51.77 151.00 L61.83 151.00 L61.83 150.20 L70.28 150.20 L70.28 149.52 L71.90 149.52 L71.90 149.38 L81.96 149.38 L81.96 148.48 L92.03 148.48 L92.03 147.59 L102.09 147.59 L102.09 146.70 L112.16 146.70 L112.16 145.81 L116.38 145.81 L116.38 145.43 L122.22 145.43 L122.22 144.68 L132.28 144.68 L132.28 143.38 L142.35 143.38 L142.35 142.09 L148.19 142.09 L148.19 141.34 L152.41 141.34 L152.41 140.15 L155.64 140.15 L155.64 139.24 L162.48 139.24 L162.48 137.31 L162.68 137.31 L162.68 137.25 L172.55 137.25 L172.55 135.12 L182.61 135.12 L182.61 132.95 L185.43 132.95 L185.43 132.34 L192.68 132.34 L192.68 131.22 L201.33 131.22 L201.33 129.89 L202.74 129.89 L202.74 129.17 L212.81 129.17 L212.81 124.06 L220.86 124.06 L220.86 119.97 L222.87 119.97 L222.87 118.95 L227.10 118.95 L227.10 116.80 L232.94 116.80 L232.94 116.80 L243.00 116.80 L243.00 116.80 L252.86 116.80 L252.86 116.80 L252.86 147.47 L252.86 147.47 L243.00 147.47 L243.00 147.47 L232.94 147.47 L232.94 147.47 L227.10 147.47 L227.10 148.86 L222.87 148.86 L222.87 149.52 L220.86 149.52 L220.86 150.36 L212.81 150.36 L212.81 151.42 L202.74 151.42 L202.74 151.56 L201.33 151.56 L201.33 152.68 L192.68 152.68 L192.68 153.61 L185.43 153.61 L185.43 153.76 L182.61 153.76 L182.61 154.30 L172.55 154.30 L172.55 154.84 L162.68 154.84 L162.68 154.85 L162.48 154.85 L162.48 155.43 L155.64 155.43 L155.64 155.71 L152.41 155.71 L152.41 156.06 L148.19 156.06 L148.19 156.21 L142.35 156.21 L142.35 156.47 L132.28 156.47 L132.28 156.73 L122.22 156.73 L122.22 156.88 L116.38 156.88 L116.38 156.93 L112.16 156.93 L112.16 157.04 L102.09 157.04 L102.09 157.15 L92.03 157.15 L92.03 157.26 L81.96 157.26 L81.96 157.37 L71.90 157.37 L71.90 157.39 L70.28 157.39 L70.28 157.48 L61.83 157.48 L61.83 160.97 L51.77 160.97 L51.77 160.97 L44.72 160.97 L44.72 157.70 L41.70 157.70 Z" fill="#def1de" style="mix-blend-mode:multiply" stroke="none"/>
<path d="M41.70 157.70 H52.57 V151.40 H59.82 V150.09 H78.54 V148.29 H89.01 V146.25 H91.02 V145.72 H97.26 V142.98 H100.08 V139.70 H117.99 V139.29 H129.47 V137.66 H142.95 V133.00 H152.01 V131.11 H156.44 V129.48 H165.30 V123.92 H173.55 V121.38 H186.64 V118.19 H228.71 V113.53 H252.86" fill="none" stroke="#c8102e" stroke-width="1.5"/>
<path d="M41.70 157.70 H70.28 V154.22 H85.78 V152.51 H89.01 V150.75 H91.02 V150.09 H96.25 V146.00 H104.51 V143.38 H112.76 V140.93 H117.99 V137.66 H123.23 V135.20 H127.25 V131.52 H132.49 V129.48 H141.95 V124.69 H144.97 V122.12 H150.60 V117.62 H167.92 V115.70 H174.16 V113.20 H182.81 V110.01 H185.43 V105.76 H187.44 V100.85 H198.51 V97.99 H200.73 V94.30 H205.36 V90.38 H206.97 V86.53 H221.46 V82.85 H249.24 V75.90 H252.86" fill="none" stroke="#235d94" stroke-width="1.5"/>
<path d="M41.70 157.70 H44.72 V155.08 H70.28 V154.02 H116.38 V151.69 H148.19 V149.60 H155.64 V147.31 H162.68 V145.02 H185.43 V141.99 H201.33 V138.68 H220.86 V133.98 H227.10 V129.32 H252.86" fill="none" stroke="#36ae4c" stroke-width="1.5"/>
<path d="M36.70 31.20 V162.90 H252.80" fill="none" stroke="#000" stroke-width="1.4"/>
<line x1="33.6" y1="157.70" x2="36.70" y2="157.70" stroke="#111" stroke-width="1"/>
<text transform="translate(30.5,160.30) scale(0.920,1)" font-size="8.60" text-anchor="end" fill="#111" style="stroke-width:0.12px">0.0</text>
<line x1="33.6" y1="116.80" x2="36.70" y2="116.80" stroke="#111" stroke-width="1"/>
<text transform="translate(30.5,119.40) scale(0.920,1)" font-size="8.60" text-anchor="end" fill="#111" style="stroke-width:0.12px">0.1</text>
<line x1="33.6" y1="75.90" x2="36.70" y2="75.90" stroke="#111" stroke-width="1"/>
<text transform="translate(30.5,78.50) scale(0.920,1)" font-size="8.60" text-anchor="end" fill="#111" style="stroke-width:0.12px">0.2</text>
<line x1="33.6" y1="35.00" x2="36.70" y2="35.00" stroke="#111" stroke-width="1"/>
<text transform="translate(30.5,37.60) scale(0.920,1)" font-size="8.60" text-anchor="end" fill="#111" style="stroke-width:0.12px">0.3</text>
<line x1="41.70" y1="162.90" x2="41.70" y2="166" stroke="#111" stroke-width="0.9"/>
<text transform="translate(41.70,174.5) scale(0.920,1)" font-size="8.60" text-anchor="middle" fill="#111" style="stroke-width:0.12px">0</text>
<text transform="translate(41.70,211.7) scale(0.900,1)" font-size="9.20" text-anchor="middle" fill="#111" style="stroke-width:0.16px">204</text>
<line x1="61.83" y1="162.90" x2="61.83" y2="166" stroke="#111" stroke-width="0.9"/>
<text transform="translate(61.83,174.5) scale(0.920,1)" font-size="8.60" text-anchor="middle" fill="#111" style="stroke-width:0.12px">1</text>
<text transform="translate(61.83,211.7) scale(0.900,1)" font-size="9.20" text-anchor="middle" fill="#111" style="stroke-width:0.16px">199</text>
<line x1="81.96" y1="162.90" x2="81.96" y2="166" stroke="#111" stroke-width="0.9"/>
<text transform="translate(81.96,174.5) scale(0.920,1)" font-size="8.60" text-anchor="middle" fill="#111" style="stroke-width:0.12px">2</text>
<text transform="translate(81.96,211.7) scale(0.900,1)" font-size="9.20" text-anchor="middle" fill="#111" style="stroke-width:0.16px">192</text>
<line x1="102.09" y1="162.90" x2="102.09" y2="166" stroke="#111" stroke-width="0.9"/>
<text transform="translate(102.09,174.5) scale(0.920,1)" font-size="8.60" text-anchor="middle" fill="#111" style="stroke-width:0.12px">3</text>
<text transform="translate(102.09,211.7) scale(0.900,1)" font-size="9.20" text-anchor="middle" fill="#111" style="stroke-width:0.16px">184</text>
<line x1="122.22" y1="162.90" x2="122.22" y2="166" stroke="#111" stroke-width="0.9"/>
<text transform="translate(122.22,174.5) scale(0.920,1)" font-size="8.60" text-anchor="middle" fill="#111" style="stroke-width:0.12px">4</text>
<text transform="translate(122.22,211.7) scale(0.900,1)" font-size="9.20" text-anchor="middle" fill="#111" style="stroke-width:0.16px">172</text>
<line x1="142.35" y1="162.90" x2="142.35" y2="166" stroke="#111" stroke-width="0.9"/>
<text transform="translate(142.35,174.5) scale(0.920,1)" font-size="8.60" text-anchor="middle" fill="#111" style="stroke-width:0.12px">5</text>
<text transform="translate(142.35,211.7) scale(0.900,1)" font-size="9.20" text-anchor="middle" fill="#111" style="stroke-width:0.16px">162</text>
<line x1="162.48" y1="162.90" x2="162.48" y2="166" stroke="#111" stroke-width="0.9"/>
<text transform="translate(162.48,174.5) scale(0.920,1)" font-size="8.60" text-anchor="middle" fill="#111" style="stroke-width:0.12px">6</text>
<text transform="translate(162.48,211.7) scale(0.900,1)" font-size="9.20" text-anchor="middle" fill="#111" style="stroke-width:0.16px">135</text>
<line x1="182.61" y1="162.90" x2="182.61" y2="166" stroke="#111" stroke-width="0.9"/>
<text transform="translate(182.61,174.5) scale(0.920,1)" font-size="8.60" text-anchor="middle" fill="#111" style="stroke-width:0.12px">7</text>
<text transform="translate(182.61,211.7) scale(0.900,1)" font-size="9.20" text-anchor="middle" fill="#111" style="stroke-width:0.16px">106</text>
<line x1="202.74" y1="162.90" x2="202.74" y2="166" stroke="#111" stroke-width="0.9"/>
<text transform="translate(202.74,174.5) scale(0.920,1)" font-size="8.60" text-anchor="middle" fill="#111" style="stroke-width:0.12px">8</text>
<text transform="translate(202.74,211.7) scale(0.900,1)" font-size="9.20" text-anchor="middle" fill="#111" style="stroke-width:0.16px">79</text>
<line x1="222.87" y1="162.90" x2="222.87" y2="166" stroke="#111" stroke-width="0.9"/>
<text transform="translate(222.87,174.5) scale(0.920,1)" font-size="8.60" text-anchor="middle" fill="#111" style="stroke-width:0.12px">9</text>
<text transform="translate(222.87,211.7) scale(0.900,1)" font-size="9.20" text-anchor="middle" fill="#111" style="stroke-width:0.16px">55</text>
<line x1="243.00" y1="162.90" x2="243.00" y2="166" stroke="#111" stroke-width="0.9"/>
<text transform="translate(243.00,174.5) scale(0.920,1)" font-size="8.60" text-anchor="middle" fill="#111" style="stroke-width:0.12px">10</text>
<text transform="translate(243.00,211.7) scale(0.900,1)" font-size="9.20" text-anchor="middle" fill="#111" style="stroke-width:0.16px">43</text>
<text x="144.75" y="187.1" font-size="9.9" text-anchor="middle" textLength="79.8" lengthAdjust="spacingAndGlyphs" fill="#111" style="stroke-width:0.42px">Time after diagnosis (years)</text>
<text transform="translate(13.8,96.9) rotate(-90)" x="0" y="0" font-size="9.9" text-anchor="middle" textLength="60.3" lengthAdjust="spacingAndGlyphs" fill="#111" style="stroke-width:0.42px">Cumulative incidence</text>
<text x="34.49" y="199.1" font-size="8.4" textLength="47.6" lengthAdjust="spacingAndGlyphs" fill="#111" style="stroke-width:0.12px">Number at risk</text>
<rect x="48" y="41.30" width="7.4" height="6.4" fill="#f6d5db"/><rect x="48" y="42.30" width="7.4" height="4.4" fill="#fff"/>
<line x1="48" y1="44.50" x2="55.4" y2="44.50" stroke="#c8102e" stroke-width="1.9"/>
<text x="58.5" y="47.00" font-size="6.9" fill="#111" style="stroke-width:0.14px">Low-grade B-related</text>
<rect x="48" y="50.00" width="7.4" height="6.4" fill="#d8e2ec"/><rect x="48" y="51.00" width="7.4" height="4.4" fill="#fff"/>
<line x1="48" y1="53.20" x2="55.4" y2="53.20" stroke="#235d94" stroke-width="1.9"/>
<text x="58.5" y="55.70" font-size="6.9" fill="#111" style="stroke-width:0.14px">Non-lymphoma-related</text>
<rect x="48" y="58.70" width="7.4" height="6.4" fill="#def1de"/><rect x="48" y="59.70" width="7.4" height="4.4" fill="#fff"/>
<line x1="48" y1="61.90" x2="55.4" y2="61.90" stroke="#36ae4c" stroke-width="1.9"/>
<text x="58.5" y="64.40" font-size="6.9" fill="#111" style="stroke-width:0.14px">Unknown</text>
</g>
<g transform="translate(260.50,227.30)">
<text transform="translate(6.7,14.8) scale(1.00,1)" font-size="12.1" font-weight="bold" fill="#000" style="stroke-width:0.3px">D</text>
<text x="144.75" y="13.8" font-size="9.05" text-anchor="middle" textLength="120.06" lengthAdjust="spacingAndGlyphs" fill="#111" style="stroke-width:0.1px">Lymphoplasmacytic lymphoma</text>
<text x="144.75" y="25.1" font-size="9.05" text-anchor="middle" fill="#111" style="stroke-width:0.1px">cause of death competing risks</text>
<path d="M41.70 157.70 L48.95 157.70 L48.95 145.02 L51.56 145.02 L51.56 137.66 L59.01 137.66 L59.01 130.71 L65.05 130.71 L65.05 123.34 L87.40 123.34 L87.40 115.98 L104.71 115.98 L104.71 110.66 L113.56 110.66 L113.56 104.53 L121.62 104.53 L121.62 97.17 L183.62 97.17 L183.62 97.17 L185.83 97.17 L185.83 73.85 L202.54 73.85 L202.54 64.86 L226.90 64.86 L226.90 53.00 L241.79 53.00 L241.79 40.32 L252.86 40.32 L252.86 40.32 L252.86 116.80 L252.86 116.80 L241.79 116.80 L241.79 124.16 L226.90 124.16 L226.90 129.07 L202.54 129.07 L202.54 133.16 L185.83 133.16 L185.83 144.20 L183.62 144.20 L183.62 146.25 L121.62 146.25 L121.62 151.56 L113.56 151.56 L113.56 151.56 L104.71 151.56 L104.71 154.43 L87.40 154.43 L87.40 156.88 L65.05 156.88 L65.05 160.97 L59.01 160.97 L59.01 160.97 L51.56 160.97 L51.56 160.97 L48.95 160.97 L48.95 157.70 L41.70 157.70 Z" fill="#f6d5db" style="mix-blend-mode:multiply" stroke="none"/>
<path d="M41.70 157.70 L70.89 157.70 L70.89 145.02 L140.94 145.02 L140.94 136.43 L146.17 136.43 L146.17 129.07 L164.90 129.07 L164.90 111.89 L183.62 111.89 L183.62 95.53 L252.86 95.53 L252.86 95.53 L252.86 149.52 L252.86 149.52 L185.03 149.52 L185.03 156.06 L183.62 156.06 L183.62 156.06 L164.90 156.06 L164.90 160.97 L146.17 160.97 L146.17 160.97 L140.94 160.97 L140.94 160.97 L70.89 160.97 L70.89 157.70 L41.70 157.70 Z" fill="#d8e2ec" style="mix-blend-mode:multiply" stroke="none"/>
<path d="M41.70 157.70 L143.96 157.70 L143.96 145.02 L160.47 145.02 L160.47 137.25 L184.42 137.25 L184.42 124.98 L252.86 124.98 L252.86 124.98 L252.86 160.97 L252.86 160.97 L184.42 160.97 L184.42 160.97 L160.47 160.97 L160.47 160.97 L143.96 160.97 L143.96 157.70 L41.70 157.70 Z" fill="#def1de" style="mix-blend-mode:multiply" stroke="none"/>
<path d="M41.70 157.70 H48.95 V153.69 H51.56 V149.60 H59.01 V145.02 H65.05 V140.19 H87.40 V135.61 H104.71 V130.79 H113.56 V126.41 H121.62 V121.30 H183.62 V115.16 H185.83 V109.03 H187.44 V104.12 H202.54 V97.70 H226.90 V88.17 H241.79 V79.17 H252.86" fill="none" stroke="#c8102e" stroke-width="1.5"/>
<path d="M41.70 157.70 H70.89 V153.69 H140.94 V149.11 H146.17 V143.92 H164.09 V137.90 H164.90 V132.75 H183.62 V126.21 H185.03 V121.30 H252.86" fill="none" stroke="#235d94" stroke-width="1.5"/>
<path d="M41.70 157.70 H143.96 V152.79 H160.47 V147.88 H184.42 V142.73 H252.86" fill="none" stroke="#36ae4c" stroke-width="1.5"/>
<path d="M36.70 31.20 V162.90 H252.80" fill="none" stroke="#000" stroke-width="1.4"/>
<line x1="33.6" y1="157.70" x2="36.70" y2="157.70" stroke="#111" stroke-width="1"/>
<text transform="translate(30.5,160.30) scale(0.920,1)" font-size="8.60" text-anchor="end" fill="#111" style="stroke-width:0.12px">0.0</text>
<line x1="33.6" y1="116.80" x2="36.70" y2="116.80" stroke="#111" stroke-width="1"/>
<text transform="translate(30.5,119.40) scale(0.920,1)" font-size="8.60" text-anchor="end" fill="#111" style="stroke-width:0.12px">0.1</text>
<line x1="33.6" y1="75.90" x2="36.70" y2="75.90" stroke="#111" stroke-width="1"/>
<text transform="translate(30.5,78.50) scale(0.920,1)" font-size="8.60" text-anchor="end" fill="#111" style="stroke-width:0.12px">0.2</text>
<line x1="33.6" y1="35.00" x2="36.70" y2="35.00" stroke="#111" stroke-width="1"/>
<text transform="translate(30.5,37.60) scale(0.920,1)" font-size="8.60" text-anchor="end" fill="#111" style="stroke-width:0.12px">0.3</text>
<line x1="41.70" y1="162.90" x2="41.70" y2="166" stroke="#111" stroke-width="0.9"/>
<text transform="translate(41.70,174.5) scale(0.920,1)" font-size="8.60" text-anchor="middle" fill="#111" style="stroke-width:0.12px">0</text>
<text transform="translate(41.70,211.7) scale(0.900,1)" font-size="9.20" text-anchor="middle" fill="#111" style="stroke-width:0.16px">91</text>
<line x1="61.83" y1="162.90" x2="61.83" y2="166" stroke="#111" stroke-width="0.9"/>
<text transform="translate(61.83,174.5) scale(0.920,1)" font-size="8.60" text-anchor="middle" fill="#111" style="stroke-width:0.12px">1</text>
<text transform="translate(61.83,211.7) scale(0.900,1)" font-size="9.20" text-anchor="middle" fill="#111" style="stroke-width:0.16px">87</text>
<line x1="81.96" y1="162.90" x2="81.96" y2="166" stroke="#111" stroke-width="0.9"/>
<text transform="translate(81.96,174.5) scale(0.920,1)" font-size="8.60" text-anchor="middle" fill="#111" style="stroke-width:0.12px">2</text>
<text transform="translate(81.96,211.7) scale(0.900,1)" font-size="9.20" text-anchor="middle" fill="#111" style="stroke-width:0.16px">85</text>
<line x1="102.09" y1="162.90" x2="102.09" y2="166" stroke="#111" stroke-width="0.9"/>
<text transform="translate(102.09,174.5) scale(0.920,1)" font-size="8.60" text-anchor="middle" fill="#111" style="stroke-width:0.12px">3</text>
<text transform="translate(102.09,211.7) scale(0.900,1)" font-size="9.20" text-anchor="middle" fill="#111" style="stroke-width:0.16px">83</text>
<line x1="122.22" y1="162.90" x2="122.22" y2="166" stroke="#111" stroke-width="0.9"/>
<text transform="translate(122.22,174.5) scale(0.920,1)" font-size="8.60" text-anchor="middle" fill="#111" style="stroke-width:0.12px">4</text>
<text transform="translate(122.22,211.7) scale(0.900,1)" font-size="9.20" text-anchor="middle" fill="#111" style="stroke-width:0.16px">79</text>
<line x1="142.35" y1="162.90" x2="142.35" y2="166" stroke="#111" stroke-width="0.9"/>
<text transform="translate(142.35,174.5) scale(0.920,1)" font-size="8.60" text-anchor="middle" fill="#111" style="stroke-width:0.12px">5</text>
<text transform="translate(142.35,211.7) scale(0.900,1)" font-size="9.20" text-anchor="middle" fill="#111" style="stroke-width:0.16px">76</text>
<line x1="162.48" y1="162.90" x2="162.48" y2="166" stroke="#111" stroke-width="0.9"/>
<text transform="translate(162.48,174.5) scale(0.920,1)" font-size="8.60" text-anchor="middle" fill="#111" style="stroke-width:0.12px">6</text>
<text transform="translate(162.48,211.7) scale(0.900,1)" font-size="9.20" text-anchor="middle" fill="#111" style="stroke-width:0.16px">66</text>
<line x1="182.61" y1="162.90" x2="182.61" y2="166" stroke="#111" stroke-width="0.9"/>
<text transform="translate(182.61,174.5) scale(0.920,1)" font-size="8.60" text-anchor="middle" fill="#111" style="stroke-width:0.12px">7</text>
<text transform="translate(182.61,211.7) scale(0.900,1)" font-size="9.20" text-anchor="middle" fill="#111" style="stroke-width:0.16px">59</text>
<line x1="202.74" y1="162.90" x2="202.74" y2="166" stroke="#111" stroke-width="0.9"/>
<text transform="translate(202.74,174.5) scale(0.920,1)" font-size="8.60" text-anchor="middle" fill="#111" style="stroke-width:0.12px">8</text>
<text transform="translate(202.74,211.7) scale(0.900,1)" font-size="9.20" text-anchor="middle" fill="#111" style="stroke-width:0.16px">46</text>
<line x1="222.87" y1="162.90" x2="222.87" y2="166" stroke="#111" stroke-width="0.9"/>
<text transform="translate(222.87,174.5) scale(0.920,1)" font-size="8.60" text-anchor="middle" fill="#111" style="stroke-width:0.12px">9</text>
<text transform="translate(222.87,211.7) scale(0.900,1)" font-size="9.20" text-anchor="middle" fill="#111" style="stroke-width:0.16px">35</text>
<line x1="243.00" y1="162.90" x2="243.00" y2="166" stroke="#111" stroke-width="0.9"/>
<text transform="translate(243.00,174.5) scale(0.920,1)" font-size="8.60" text-anchor="middle" fill="#111" style="stroke-width:0.12px">10</text>
<text transform="translate(243.00,211.7) scale(0.900,1)" font-size="9.20" text-anchor="middle" fill="#111" style="stroke-width:0.16px">28</text>
<text x="144.75" y="187.1" font-size="9.9" text-anchor="middle" textLength="79.8" lengthAdjust="spacingAndGlyphs" fill="#111" style="stroke-width:0.42px">Time after diagnosis (years)</text>
<text transform="translate(13.8,96.9) rotate(-90)" x="0" y="0" font-size="9.9" text-anchor="middle" textLength="60.3" lengthAdjust="spacingAndGlyphs" fill="#111" style="stroke-width:0.42px">Cumulative incidence</text>
<text x="36.80" y="199.1" font-size="8.4" textLength="47.6" lengthAdjust="spacingAndGlyphs" fill="#111" style="stroke-width:0.12px">Number at risk</text>
<rect x="48" y="41.30" width="7.4" height="6.4" fill="#f6d5db"/><rect x="48" y="42.30" width="7.4" height="4.4" fill="#fff"/>
<line x1="48" y1="44.50" x2="55.4" y2="44.50" stroke="#c8102e" stroke-width="1.9"/>
<text x="58.5" y="47.00" font-size="6.9" fill="#111" style="stroke-width:0.14px">Lymphoplasmacytic lymphoma-related</text>
<rect x="48" y="50.00" width="7.4" height="6.4" fill="#d8e2ec"/><rect x="48" y="51.00" width="7.4" height="4.4" fill="#fff"/>
<line x1="48" y1="53.20" x2="55.4" y2="53.20" stroke="#235d94" stroke-width="1.9"/>
<text x="58.5" y="55.70" font-size="6.9" fill="#111" style="stroke-width:0.14px">Non-lymphoma-related</text>
<rect x="48" y="58.70" width="7.4" height="6.4" fill="#def1de"/><rect x="48" y="59.70" width="7.4" height="4.4" fill="#fff"/>
<line x1="48" y1="61.90" x2="55.4" y2="61.90" stroke="#36ae4c" stroke-width="1.9"/>
<text x="58.5" y="64.40" font-size="6.9" fill="#111" style="stroke-width:0.14px">Unknown</text>
</g>
<g transform="translate(0.00,454.00)">
<text transform="translate(6.7,14.8) scale(0.90,1)" font-size="12.1" font-weight="bold" fill="#000" style="stroke-width:0.3px">E</text>
<text x="144.75" y="13.8" font-size="9.05" text-anchor="middle" textLength="123.57" lengthAdjust="spacingAndGlyphs" fill="#111" style="stroke-width:0.1px">Nodal marginal zone lymphoma</text>
<text x="144.75" y="25.1" font-size="9.05" text-anchor="middle" fill="#111" style="stroke-width:0.1px">cause of death competing risks</text>
<path d="M41.70 157.70 L43.31 157.70 L43.31 142.16 L76.52 142.16 L76.52 125.39 L92.03 125.39 L92.03 117.21 L252.86 117.21 L252.86 117.21 L252.86 153.20 L252.86 153.20 L135.10 153.20 L135.10 156.06 L92.03 156.06 L92.03 156.88 L76.52 156.88 L76.52 160.97 L43.31 160.97 L43.31 157.70 L41.70 157.70 Z" fill="#f6d5db" style="mix-blend-mode:multiply" stroke="none"/>
<path d="M41.70 157.70 L92.63 157.70 L92.63 141.34 L96.25 141.34 L96.25 133.98 L130.47 133.98 L130.47 122.28 L135.10 122.28 L135.10 113.12 L155.23 113.12 L155.23 102.08 L172.14 102.08 L172.14 88.99 L252.86 88.99 L252.86 88.99 L252.86 149.52 L252.86 149.52 L172.14 149.52 L172.14 154.43 L155.23 154.43 L155.23 154.43 L135.10 154.43 L135.10 156.88 L130.47 156.88 L130.47 160.97 L96.25 160.97 L96.25 160.97 L92.63 160.97 L92.63 157.70 L41.70 157.70 Z" fill="#d8e2ec" style="mix-blend-mode:multiply" stroke="none"/>
<path d="M41.70 157.70 L130.88 157.70 L130.88 139.29 L252.86 139.29 L252.86 139.29 L252.86 160.97 L252.86 160.97 L130.88 160.97 L130.88 157.70 L41.70 157.70 Z" fill="#def1de" style="mix-blend-mode:multiply" stroke="none"/>
<path d="M41.70 157.70 H43.31 V152.91 H76.52 V141.75 H92.03 V136.43 H252.86" fill="none" stroke="#c8102e" stroke-width="1.5"/>
<path d="M41.70 157.70 H92.63 V152.91 H96.25 V147.47 H130.47 V141.75 H135.10 V135.20 H155.23 V128.01 H172.14 V118.84 H252.86" fill="none" stroke="#235d94" stroke-width="1.5"/>
<path d="M41.70 157.70 H130.88 V151.77 H252.86" fill="none" stroke="#36ae4c" stroke-width="1.5"/>
<path d="M36.70 31.20 V162.90 H252.80" fill="none" stroke="#000" stroke-width="1.4"/>
<line x1="33.6" y1="157.70" x2="36.70" y2="157.70" stroke="#111" stroke-width="1"/>
<text transform="translate(30.5,160.30) scale(0.920,1)" font-size="8.60" text-anchor="end" fill="#111" style="stroke-width:0.12px">0.0</text>
<line x1="33.6" y1="116.80" x2="36.70" y2="116.80" stroke="#111" stroke-width="1"/>
<text transform="translate(30.5,119.40) scale(0.920,1)" font-size="8.60" text-anchor="end" fill="#111" style="stroke-width:0.12px">0.1</text>
<line x1="33.6" y1="75.90" x2="36.70" y2="75.90" stroke="#111" stroke-width="1"/>
<text transform="translate(30.5,78.50) scale(0.920,1)" font-size="8.60" text-anchor="end" fill="#111" style="stroke-width:0.12px">0.2</text>
<line x1="33.6" y1="35.00" x2="36.70" y2="35.00" stroke="#111" stroke-width="1"/>
<text transform="translate(30.5,37.60) scale(0.920,1)" font-size="8.60" text-anchor="end" fill="#111" style="stroke-width:0.12px">0.3</text>
<line x1="41.70" y1="162.90" x2="41.70" y2="166" stroke="#111" stroke-width="0.9"/>
<text transform="translate(41.70,174.5) scale(0.920,1)" font-size="8.60" text-anchor="middle" fill="#111" style="stroke-width:0.12px">0</text>
<text transform="translate(41.70,211.7) scale(0.900,1)" font-size="9.20" text-anchor="middle" fill="#111" style="stroke-width:0.16px">79</text>
<line x1="61.83" y1="162.90" x2="61.83" y2="166" stroke="#111" stroke-width="0.9"/>
<text transform="translate(61.83,174.5) scale(0.920,1)" font-size="8.60" text-anchor="middle" fill="#111" style="stroke-width:0.12px">1</text>
<text transform="translate(61.83,211.7) scale(0.900,1)" font-size="9.20" text-anchor="middle" fill="#111" style="stroke-width:0.16px">77</text>
<line x1="81.96" y1="162.90" x2="81.96" y2="166" stroke="#111" stroke-width="0.9"/>
<text transform="translate(81.96,174.5) scale(0.920,1)" font-size="8.60" text-anchor="middle" fill="#111" style="stroke-width:0.12px">2</text>
<text transform="translate(81.96,211.7) scale(0.900,1)" font-size="9.20" text-anchor="middle" fill="#111" style="stroke-width:0.16px">74</text>
<line x1="102.09" y1="162.90" x2="102.09" y2="166" stroke="#111" stroke-width="0.9"/>
<text transform="translate(102.09,174.5) scale(0.920,1)" font-size="8.60" text-anchor="middle" fill="#111" style="stroke-width:0.12px">3</text>
<text transform="translate(102.09,211.7) scale(0.900,1)" font-size="9.20" text-anchor="middle" fill="#111" style="stroke-width:0.16px">70</text>
<line x1="122.22" y1="162.90" x2="122.22" y2="166" stroke="#111" stroke-width="0.9"/>
<text transform="translate(122.22,174.5) scale(0.920,1)" font-size="8.60" text-anchor="middle" fill="#111" style="stroke-width:0.12px">4</text>
<text transform="translate(122.22,211.7) scale(0.900,1)" font-size="9.20" text-anchor="middle" fill="#111" style="stroke-width:0.16px">65</text>
<line x1="142.35" y1="162.90" x2="142.35" y2="166" stroke="#111" stroke-width="0.9"/>
<text transform="translate(142.35,174.5) scale(0.920,1)" font-size="8.60" text-anchor="middle" fill="#111" style="stroke-width:0.12px">5</text>
<text transform="translate(142.35,211.7) scale(0.900,1)" font-size="9.20" text-anchor="middle" fill="#111" style="stroke-width:0.16px">52</text>
<line x1="162.48" y1="162.90" x2="162.48" y2="166" stroke="#111" stroke-width="0.9"/>
<text transform="translate(162.48,174.5) scale(0.920,1)" font-size="8.60" text-anchor="middle" fill="#111" style="stroke-width:0.12px">6</text>
<text transform="translate(162.48,211.7) scale(0.900,1)" font-size="9.20" text-anchor="middle" fill="#111" style="stroke-width:0.16px">43</text>
<line x1="182.61" y1="162.90" x2="182.61" y2="166" stroke="#111" stroke-width="0.9"/>
<text transform="translate(182.61,174.5) scale(0.920,1)" font-size="8.60" text-anchor="middle" fill="#111" style="stroke-width:0.12px">7</text>
<text transform="translate(182.61,211.7) scale(0.900,1)" font-size="9.20" text-anchor="middle" fill="#111" style="stroke-width:0.16px">35</text>
<line x1="202.74" y1="162.90" x2="202.74" y2="166" stroke="#111" stroke-width="0.9"/>
<text transform="translate(202.74,174.5) scale(0.920,1)" font-size="8.60" text-anchor="middle" fill="#111" style="stroke-width:0.12px">8</text>
<text transform="translate(202.74,211.7) scale(0.900,1)" font-size="9.20" text-anchor="middle" fill="#111" style="stroke-width:0.16px">31</text>
<line x1="222.87" y1="162.90" x2="222.87" y2="166" stroke="#111" stroke-width="0.9"/>
<text transform="translate(222.87,174.5) scale(0.920,1)" font-size="8.60" text-anchor="middle" fill="#111" style="stroke-width:0.12px">9</text>
<text transform="translate(222.87,211.7) scale(0.900,1)" font-size="9.20" text-anchor="middle" fill="#111" style="stroke-width:0.16px">22</text>
<line x1="243.00" y1="162.90" x2="243.00" y2="166" stroke="#111" stroke-width="0.9"/>
<text transform="translate(243.00,174.5) scale(0.920,1)" font-size="8.60" text-anchor="middle" fill="#111" style="stroke-width:0.12px">10</text>
<text transform="translate(243.00,211.7) scale(0.900,1)" font-size="9.20" text-anchor="middle" fill="#111" style="stroke-width:0.16px">13</text>
<text x="144.75" y="187.1" font-size="9.9" text-anchor="middle" textLength="79.8" lengthAdjust="spacingAndGlyphs" fill="#111" style="stroke-width:0.42px">Time after diagnosis (years)</text>
<text transform="translate(13.8,96.9) rotate(-90)" x="0" y="0" font-size="9.9" text-anchor="middle" textLength="60.3" lengthAdjust="spacingAndGlyphs" fill="#111" style="stroke-width:0.42px">Cumulative incidence</text>
<text x="36.80" y="199.1" font-size="8.4" textLength="47.6" lengthAdjust="spacingAndGlyphs" fill="#111" style="stroke-width:0.12px">Number at risk</text>
<rect x="48" y="41.30" width="7.4" height="6.4" fill="#f6d5db"/><rect x="48" y="42.30" width="7.4" height="4.4" fill="#fff"/>
<line x1="48" y1="44.50" x2="55.4" y2="44.50" stroke="#c8102e" stroke-width="1.9"/>
<text x="58.5" y="47.00" font-size="6.9" fill="#111" style="stroke-width:0.14px">Nodal MZL-related</text>
<rect x="48" y="50.00" width="7.4" height="6.4" fill="#d8e2ec"/><rect x="48" y="51.00" width="7.4" height="4.4" fill="#fff"/>
<line x1="48" y1="53.20" x2="55.4" y2="53.20" stroke="#235d94" stroke-width="1.9"/>
<text x="58.5" y="55.70" font-size="6.9" fill="#111" style="stroke-width:0.14px">Non-lymphoma-related</text>
<rect x="48" y="58.70" width="7.4" height="6.4" fill="#def1de"/><rect x="48" y="59.70" width="7.4" height="4.4" fill="#fff"/>
<line x1="48" y1="61.90" x2="55.4" y2="61.90" stroke="#36ae4c" stroke-width="1.9"/>
<text x="58.5" y="64.40" font-size="6.9" fill="#111" style="stroke-width:0.14px">Unknown</text>
</g>
<g transform="translate(260.50,454.00)">
<text transform="translate(6.7,14.8) scale(1.00,1)" font-size="12.1" font-weight="bold" fill="#000" style="stroke-width:0.3px">F</text>
<text x="144.75" y="13.8" font-size="9.05" text-anchor="middle" textLength="128.76" lengthAdjust="spacingAndGlyphs" fill="#111" style="stroke-width:0.1px">Splenic marginal zone lymphoma</text>
<text x="144.75" y="25.1" font-size="9.05" text-anchor="middle" fill="#111" style="stroke-width:0.1px">cause of death competing risks</text>
<path d="M41.70 157.70 L58.41 157.70 L58.41 141.34 L63.24 141.34 L63.24 135.20 L72.50 135.20 L72.50 128.25 L76.32 128.25 L76.32 120.89 L78.74 120.89 L78.74 107.39 L101.08 107.39 L101.08 100.44 L222.06 100.44 L222.06 86.94 L252.86 86.94 L252.86 86.94 L252.86 145.43 L252.86 145.43 L222.06 145.43 L222.06 147.68 L108.13 147.68 L108.13 149.52 L101.08 149.52 L101.08 153.61 L78.74 153.61 L78.74 160.97 L76.32 160.97 L76.32 160.97 L72.50 160.97 L72.50 160.97 L63.24 160.97 L63.24 160.97 L58.41 160.97 L58.41 157.70 L41.70 157.70 Z" fill="#f6d5db" style="mix-blend-mode:multiply" stroke="none"/>
<path d="M41.70 157.70 L57.80 157.70 L57.80 139.29 L64.04 139.29 L64.04 135.20 L71.09 135.20 L71.09 128.25 L78.74 128.25 L78.74 120.60 L92.63 120.60 L92.63 116.80 L101.08 116.80 L101.08 100.44 L114.97 100.44 L114.97 88.99 L124.64 88.99 L124.64 81.01 L151.61 81.01 L151.61 74.26 L183.82 74.26 L183.82 67.31 L192.47 67.31 L192.47 59.13 L199.92 59.13 L199.92 51.77 L209.18 51.77 L209.18 42.36 L217.84 42.36 L217.84 29.27 L252.86 29.27 L252.86 29.27 L252.86 106.57 L252.86 106.57 L217.84 106.57 L217.84 115.57 L209.18 115.57 L209.18 121.71 L199.92 121.71 L199.92 127.84 L192.47 127.84 L192.47 127.84 L183.82 127.84 L183.82 133.57 L151.61 133.57 L151.61 138.07 L124.64 138.07 L124.64 141.34 L114.97 141.34 L114.97 149.52 L101.08 149.52 L101.08 149.52 L92.63 149.52 L92.63 155.66 L78.74 155.66 L78.74 155.66 L71.09 155.66 L71.09 155.66 L64.04 155.66 L64.04 160.97 L57.80 160.97 L57.80 157.70 L41.70 157.70 Z" fill="#d8e2ec" style="mix-blend-mode:multiply" stroke="none"/>
<path d="M41.70 157.70 L58.81 157.70 L58.81 145.43 L77.13 145.43 L77.13 137.25 L113.36 137.25 L113.36 116.80 L119.40 116.80 L119.40 108.62 L252.86 108.62 L252.86 108.62 L252.86 150.91 L252.86 150.91 L119.40 150.91 L119.40 153.61 L113.36 153.61 L113.36 160.97 L77.13 160.97 L77.13 160.97 L58.81 160.97 L58.81 157.70 L41.70 157.70 Z" fill="#def1de" style="mix-blend-mode:multiply" stroke="none"/>
<path d="M41.70 157.70 H58.41 V153.69 H59.41 V148.29 H63.24 V143.79 H72.50 V139.29 H76.32 V134.18 H78.74 V129.07 H101.08 V124.98 H108.13 V123.92 H222.06 V115.98 H252.86" fill="none" stroke="#c8102e" stroke-width="1.5"/>
<path d="M41.70 157.70 H57.80 V153.69 H64.04 V143.79 H71.09 V138.89 H92.63 V134.18 H101.08 V124.98 H110.95 V120.60 H114.97 V114.51 H124.64 V109.44 H151.61 V104.12 H183.82 V97.99 H192.47 V92.01 H199.92 V86.12 H209.18 V79.01 H216.23 V71.81 H217.84 V64.04 H252.86" fill="none" stroke="#235d94" stroke-width="1.5"/>
<path d="M41.70 157.70 H58.81 V154.18 H77.13 V148.29 H113.36 V133.16 H119.40 V128.42 H252.86" fill="none" stroke="#36ae4c" stroke-width="1.5"/>
<path d="M36.70 31.20 V162.90 H252.80" fill="none" stroke="#000" stroke-width="1.4"/>
<line x1="33.6" y1="157.70" x2="36.70" y2="157.70" stroke="#111" stroke-width="1"/>
<text transform="translate(30.5,160.30) scale(0.920,1)" font-size="8.60" text-anchor="end" fill="#111" style="stroke-width:0.12px">0.0</text>
<line x1="33.6" y1="116.80" x2="36.70" y2="116.80" stroke="#111" stroke-width="1"/>
<text transform="translate(30.5,119.40) scale(0.920,1)" font-size="8.60" text-anchor="end" fill="#111" style="stroke-width:0.12px">0.1</text>
<line x1="33.6" y1="75.90" x2="36.70" y2="75.90" stroke="#111" stroke-width="1"/>
<text transform="translate(30.5,78.50) scale(0.920,1)" font-size="8.60" text-anchor="end" fill="#111" style="stroke-width:0.12px">0.2</text>
<line x1="33.6" y1="35.00" x2="36.70" y2="35.00" stroke="#111" stroke-width="1"/>
<text transform="translate(30.5,37.60) scale(0.920,1)" font-size="8.60" text-anchor="end" fill="#111" style="stroke-width:0.12px">0.3</text>
<line x1="41.70" y1="162.90" x2="41.70" y2="166" stroke="#111" stroke-width="0.9"/>
<text transform="translate(41.70,174.5) scale(0.920,1)" font-size="8.60" text-anchor="middle" fill="#111" style="stroke-width:0.12px">0</text>
<text transform="translate(41.70,211.7) scale(0.900,1)" font-size="9.20" text-anchor="middle" fill="#111" style="stroke-width:0.16px">85</text>
<line x1="61.83" y1="162.90" x2="61.83" y2="166" stroke="#111" stroke-width="0.9"/>
<text transform="translate(61.83,174.5) scale(0.920,1)" font-size="8.60" text-anchor="middle" fill="#111" style="stroke-width:0.12px">1</text>
<text transform="translate(61.83,211.7) scale(0.900,1)" font-size="9.20" text-anchor="middle" fill="#111" style="stroke-width:0.16px">81</text>
<line x1="81.96" y1="162.90" x2="81.96" y2="166" stroke="#111" stroke-width="0.9"/>
<text transform="translate(81.96,174.5) scale(0.920,1)" font-size="8.60" text-anchor="middle" fill="#111" style="stroke-width:0.12px">2</text>
<text transform="translate(81.96,211.7) scale(0.900,1)" font-size="9.20" text-anchor="middle" fill="#111" style="stroke-width:0.16px">73</text>
<line x1="102.09" y1="162.90" x2="102.09" y2="166" stroke="#111" stroke-width="0.9"/>
<text transform="translate(102.09,174.5) scale(0.920,1)" font-size="8.60" text-anchor="middle" fill="#111" style="stroke-width:0.12px">3</text>
<text transform="translate(102.09,211.7) scale(0.900,1)" font-size="9.20" text-anchor="middle" fill="#111" style="stroke-width:0.16px">69</text>
<line x1="122.22" y1="162.90" x2="122.22" y2="166" stroke="#111" stroke-width="0.9"/>
<text transform="translate(122.22,174.5) scale(0.920,1)" font-size="8.60" text-anchor="middle" fill="#111" style="stroke-width:0.12px">4</text>
<text transform="translate(122.22,211.7) scale(0.900,1)" font-size="9.20" text-anchor="middle" fill="#111" style="stroke-width:0.16px">62</text>
<line x1="142.35" y1="162.90" x2="142.35" y2="166" stroke="#111" stroke-width="0.9"/>
<text transform="translate(142.35,174.5) scale(0.920,1)" font-size="8.60" text-anchor="middle" fill="#111" style="stroke-width:0.12px">5</text>
<text transform="translate(142.35,211.7) scale(0.900,1)" font-size="9.20" text-anchor="middle" fill="#111" style="stroke-width:0.16px">58</text>
<line x1="162.48" y1="162.90" x2="162.48" y2="166" stroke="#111" stroke-width="0.9"/>
<text transform="translate(162.48,174.5) scale(0.920,1)" font-size="8.60" text-anchor="middle" fill="#111" style="stroke-width:0.12px">6</text>
<text transform="translate(162.48,211.7) scale(0.900,1)" font-size="9.20" text-anchor="middle" fill="#111" style="stroke-width:0.16px">53</text>
<line x1="182.61" y1="162.90" x2="182.61" y2="166" stroke="#111" stroke-width="0.9"/>
<text transform="translate(182.61,174.5) scale(0.920,1)" font-size="8.60" text-anchor="middle" fill="#111" style="stroke-width:0.12px">7</text>
<text transform="translate(182.61,211.7) scale(0.900,1)" font-size="9.20" text-anchor="middle" fill="#111" style="stroke-width:0.16px">50</text>
<line x1="202.74" y1="162.90" x2="202.74" y2="166" stroke="#111" stroke-width="0.9"/>
<text transform="translate(202.74,174.5) scale(0.920,1)" font-size="8.60" text-anchor="middle" fill="#111" style="stroke-width:0.12px">8</text>
<text transform="translate(202.74,211.7) scale(0.900,1)" font-size="9.20" text-anchor="middle" fill="#111" style="stroke-width:0.16px">40</text>
<line x1="222.87" y1="162.90" x2="222.87" y2="166" stroke="#111" stroke-width="0.9"/>
<text transform="translate(222.87,174.5) scale(0.920,1)" font-size="8.60" text-anchor="middle" fill="#111" style="stroke-width:0.12px">9</text>
<text transform="translate(222.87,211.7) scale(0.900,1)" font-size="9.20" text-anchor="middle" fill="#111" style="stroke-width:0.16px">29</text>
<line x1="243.00" y1="162.90" x2="243.00" y2="166" stroke="#111" stroke-width="0.9"/>
<text transform="translate(243.00,174.5) scale(0.920,1)" font-size="8.60" text-anchor="middle" fill="#111" style="stroke-width:0.12px">10</text>
<text transform="translate(243.00,211.7) scale(0.900,1)" font-size="9.20" text-anchor="middle" fill="#111" style="stroke-width:0.16px">25</text>
<text x="144.75" y="187.1" font-size="9.9" text-anchor="middle" textLength="79.8" lengthAdjust="spacingAndGlyphs" fill="#111" style="stroke-width:0.42px">Time after diagnosis (years)</text>
<text transform="translate(13.8,96.9) rotate(-90)" x="0" y="0" font-size="9.9" text-anchor="middle" textLength="60.3" lengthAdjust="spacingAndGlyphs" fill="#111" style="stroke-width:0.42px">Cumulative incidence</text>
<text x="36.80" y="199.1" font-size="8.4" textLength="47.6" lengthAdjust="spacingAndGlyphs" fill="#111" style="stroke-width:0.12px">Number at risk</text>
<rect x="48" y="41.30" width="7.4" height="6.4" fill="#f6d5db"/><rect x="48" y="42.30" width="7.4" height="4.4" fill="#fff"/>
<line x1="48" y1="44.50" x2="55.4" y2="44.50" stroke="#c8102e" stroke-width="1.9"/>
<text x="58.5" y="47.00" font-size="6.9" fill="#111" style="stroke-width:0.14px">Splenic MZL-related</text>
<rect x="48" y="50.00" width="7.4" height="6.4" fill="#d8e2ec"/><rect x="48" y="51.00" width="7.4" height="4.4" fill="#fff"/>
<line x1="48" y1="53.20" x2="55.4" y2="53.20" stroke="#235d94" stroke-width="1.9"/>
<text x="58.5" y="55.70" font-size="6.9" fill="#111" style="stroke-width:0.14px">Non-lymphoma-related</text>
<rect x="48" y="58.70" width="7.4" height="6.4" fill="#def1de"/><rect x="48" y="59.70" width="7.4" height="4.4" fill="#fff"/>
<line x1="48" y1="61.90" x2="55.4" y2="61.90" stroke="#36ae4c" stroke-width="1.9"/>
<text x="58.5" y="64.40" font-size="6.9" fill="#111" style="stroke-width:0.14px">Unknown</text>
</g>
<rect x="0.5" y="0.5" width="519" height="671" fill="none" stroke="#000" stroke-width="1.2"/>
</svg></body></html>
